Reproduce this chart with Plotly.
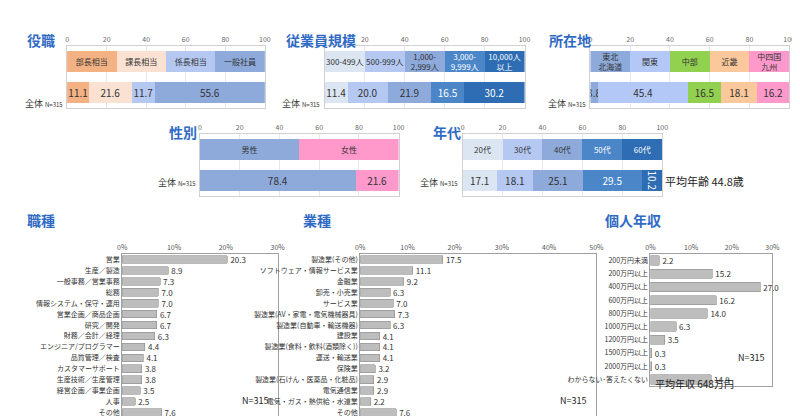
import plotly.graph_objects as go

# --- data ---
yaku_cats = ["部長相当", "課長相当", "係長相当", "一般社員"]
yaku_vals = [11.1, 21.6, 11.7, 55.6]
emp_cats = ["300-499人", "500-999人", "1,000-<br>2,999人", "3,000-<br>9,999人", "10,000人<br>以上"]
emp_vals = [11.4, 20.0, 21.9, 16.5, 30.2]
loc_cats = ["東北<br>北海道", "関東", "中部", "近畿", "中四国<br>九州"]
loc_vals = [3.8, 45.4, 16.5, 18.1, 16.2]
sex_cats = ["男性", "女性"]
sex_vals = [78.4, 21.6]
age_cats = ["20代", "30代", "40代", "50代", "60代"]
age_vals = [17.1, 18.1, 25.1, 29.5, 10.2]

job_cats = ["営業", "生産／製造", "一般事務／営業事務", "総務", "情報システム・保守・運用",
            "営業企画／商品企画", "研究／開発", "財務／会計／経理", "エンジニア/プログラマー",
            "品質管理／検査", "カスタマーサポート", "生産技術／生産管理", "経営企画／事業企画",
            "人事", "その他"]
job_vals = [20.3, 8.9, 7.3, 7.0, 7.0, 6.7, 6.7, 6.3, 4.4, 4.1, 3.8, 3.8, 3.5, 2.5, 7.6]
ind_cats = ["製造業(その他)", "ソフトウェア・情報サービス業", "金融業", "卸売・小売業", "サービス業",
            "製造業(AV・家電・電気機械器具)", "製造業(自動車・輸送機器)", "建設業",
            "製造業(食料・飲料(酒類除く))", "運送・輸送業", "保険業",
            "製造業(石けん・医薬品・化粧品)", "電気通信業", "電気・ガス・熱供給・水道業", "その他"]
ind_vals = [17.5, 11.1, 9.2, 6.3, 7.0, 7.3, 6.3, 4.1, 4.1, 4.1, 3.2, 2.9, 2.9, 2.2, 7.6]
inc_cats = ["200万円未満", "200万円以上", "400万円以上", "600万円以上", "800万円以上",
            "1000万円以上", "1200万円以上", "1500万円以上", "2000万円以上", "わからない･答えたくない"]
inc_vals = [2.2, 15.2, 27.0, 16.2, 14.0, 6.3, 3.5, 0.3, 0.3, 14.9]

blues = ["#dce6f2", "#b4c8f2", "#8eaadb", "#4a86c8", "#2e6db4"]
W, H = 800, 416
FONT = "Noto Sans CJK JP"
TITLE_C = "#2f6bc4"

fig = go.Figure()


def px(x0, x1):
    return [x0 / W, x1 / W]


def py(y0, y1):
    return [1 - y1 / H, 1 - y0 / H]


def stacked_panel(i, cats, vals, colors, xd, yd, txtcol=None):
    xa, ya = f"x{i}", f"y{i}"
    eq = 100 / len(cats)
    for k, (c, v, col) in enumerate(zip(cats, vals, colors)):
        tc = txtcol[k] if txtcol else "#333"
        fig.add_trace(go.Bar(y=["legend"], x=[eq], orientation="h", marker=dict(color=col, line_width=0),
                             text=[c], textposition="inside", insidetextanchor="middle",
                             textfont=dict(size=8, color=tc), xaxis=xa, yaxis=ya, showlegend=False))
        fig.add_trace(go.Bar(y=["全体"], x=[v], orientation="h", marker=dict(color=col, line_width=0),
                             text=[f"{v:.1f}"], textposition="inside", insidetextanchor="middle",
                             textfont=dict(size=10, color=tc), xaxis=xa, yaxis=ya, showlegend=False))
    fig.update_layout({
        f"xaxis{i}": dict(domain=px(*xd), anchor=ya, range=[0, 100], side="top", tickvals=[0, 20, 40, 60, 80, 100],
                          ticksuffix="%", tickfont=dict(size=7, color="#666"), showgrid=True, gridcolor="#e8e8e8",
                          showline=True, mirror=True, linecolor="#d0d0d0", zeroline=False, ticks=""),
        f"yaxis{i}": dict(domain=py(*yd), anchor=xa, categoryorder="array", categoryarray=["全体", "legend"],
                          showticklabels=False, showline=True, mirror=True, linecolor="#d0d0d0"),
    })
    fig.add_annotation(x=xd[0] / W - 0.003, y=1 - (yd[1] - 13) / H, xref="paper", yref="paper",
                       text="全体 <span style='font-size:6px'>N=315</span>", showarrow=False,
                       xanchor="right", font=dict(size=9, color="#333"))


def hbar_panel(i, cats, vals, xd, yd, rng, step):
    xa, ya = f"x{i}", f"y{i}"
    fig.add_trace(go.Bar(y=cats, x=vals, orientation="h",
                         marker=dict(color="#bdbdbd", line=dict(color="#8c8c8c", width=0.6)),
                         text=[f"{v:.1f}" for v in vals], textposition="outside", cliponaxis=False,
                         textfont=dict(size=8, color="#333"), xaxis=xa, yaxis=ya, showlegend=False))
    fig.update_layout({
        f"xaxis{i}": dict(domain=px(*xd), anchor=ya, range=rng, side="top", dtick=step, ticksuffix="%",
                          tickfont=dict(size=7, color="#555"), showgrid=False, showline=True, mirror=True,
                          linecolor="#a0a0a0", zeroline=False),
        f"yaxis{i}": dict(domain=py(*yd), anchor=xa, autorange="reversed", tickfont=dict(size=7, color="#333"),
                          showline=True, mirror=True, linecolor="#a0a0a0", ticks=""),
    })


stacked_panel(1, yaku_cats, yaku_vals, ["#f4b183", "#fbe1d2", "#b4c8f2", "#8eaadb"], (55, 256), (38, 100))
stacked_panel(2, emp_cats, emp_vals, blues, (317, 520), (38, 100), ["#333", "#333", "#333", "#fff", "#fff"])
stacked_panel(3, loc_cats, loc_vals, ["#8eaadb", "#b4c8f7", "#92d050", "#fbc89b", "#ff99cc"], (587, 789), (38, 100))
stacked_panel(4, sex_cats, sex_vals, ["#8eaadb", "#ff99cc"], (190, 392), (126, 188))
stacked_panel(5, age_cats, age_vals, blues, (457, 660), (126, 188), ["#333", "#333", "#333", "#fff", "#fff"])

hbar_panel(6, job_cats, job_vals, (111, 269), (246, 410), [0, 30], 10)
hbar_panel(7, ind_cats, ind_vals, (353, 593), (246, 410), [0, 50], 10)
hbar_panel(8, inc_cats, inc_vals, (648, 772), (246, 378), [0, 30], 10)

titles = [("役職", 12, 20), ("従業員規模", 275, 20), ("所在地", 543, 20), ("性別", 157, 112),
          ("年代", 425, 112), ("職種", 12, 212), ("業種", 293, 212), ("個人年収", 600, 212)]
for t, x, y in titles:
    fig.add_annotation(x=x / W, y=1 - y / H, xref="paper", yref="paper", text=f"<b>{t}</b>", showarrow=False,
                       xanchor="left", font=dict(size=14, color=TITLE_C))

notes = [("N=315", 262, 401, 9), ("N=315", 586, 401, 9), ("N=315", 766, 358, 9),
         ("平均年齢 44.8歳", 745, 173, 11), ("平均年収 648万円", 735, 385, 10)]
for t, x, y, s in notes:
    fig.add_annotation(x=x / W, y=1 - y / H, xref="paper", yref="paper", text=t, showarrow=False,
                       xanchor="right", font=dict(size=s, color="#222"))

fig.update_layout(width=W, height=H, margin=dict(l=0, r=0, t=0, b=0), barmode="stack", bargap=0.3,
                  plot_bgcolor="white", paper_bgcolor="white", font=dict(family=FONT),
                  uniformtext=dict(minsize=7, mode="show"))
fig.write_html("out.html")
